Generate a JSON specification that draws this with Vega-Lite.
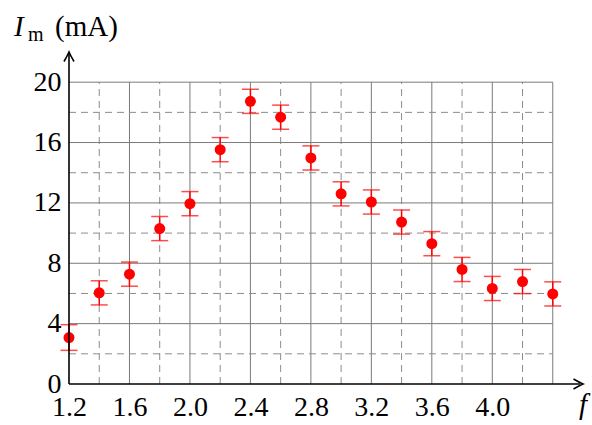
{
  "$schema": "https://vega.github.io/schema/vega-lite/v6.json",
  "width": 514,
  "height": 332,
  "autosize": {"type": "none"},
  "padding": {"left": 69, "top": 52, "right": 9, "bottom": 41},
  "background": "white",
  "config": {"view": {"stroke": null}},
  "datasets": {
    "pts": [
      {"f": 1.2, "I": 3.08, "lo": 2.23, "hi": 3.93},
      {"f": 1.4, "I": 6.04, "lo": 5.24, "hi": 6.84},
      {"f": 1.6, "I": 7.28, "lo": 6.48, "hi": 8.08},
      {"f": 1.8, "I": 10.3, "lo": 9.5, "hi": 11.1},
      {"f": 2.0, "I": 11.95, "lo": 11.15, "hi": 12.75},
      {"f": 2.2, "I": 15.53, "lo": 14.73, "hi": 16.33},
      {"f": 2.4, "I": 18.73, "lo": 17.93, "hi": 19.53},
      {"f": 2.6, "I": 17.68, "lo": 16.88, "hi": 18.48},
      {"f": 2.8, "I": 14.98, "lo": 14.18, "hi": 15.78},
      {"f": 3.0, "I": 12.6, "lo": 11.8, "hi": 13.4},
      {"f": 3.2, "I": 12.06, "lo": 11.26, "hi": 12.86},
      {"f": 3.4, "I": 10.73, "lo": 9.93, "hi": 11.53},
      {"f": 3.6, "I": 9.3, "lo": 8.5, "hi": 10.1},
      {"f": 3.8, "I": 7.59, "lo": 6.79, "hi": 8.39},
      {"f": 4.0, "I": 6.33, "lo": 5.53, "hi": 7.13},
      {"f": 4.2, "I": 6.79, "lo": 5.99, "hi": 7.59},
      {"f": 4.4, "I": 5.97, "lo": 5.17, "hi": 6.77}
    ],
    "vminor": [{"g": 1.4}, {"g": 1.8}, {"g": 2.2}, {"g": 2.6}, {"g": 3.0}, {"g": 3.4}, {"g": 3.8}, {"g": 4.2}],
    "vmajor": [{"g": 1.6}, {"g": 2.0}, {"g": 2.4}, {"g": 2.8}, {"g": 3.2}, {"g": 3.6}, {"g": 4.0}, {"g": 4.4}],
    "hminor": [{"g": 2}, {"g": 6}, {"g": 10}, {"g": 14}, {"g": 18}],
    "hmajor": [{"g": 4}, {"g": 8}, {"g": 12}, {"g": 16}, {"g": 20}]
  },
  "layer": [
    {
      "data": {"name": "vminor"},
      "mark": {"type": "rule", "color": "#8c8c8c", "strokeWidth": 1, "strokeDash": [7, 5]},
      "encoding": {
        "x": {"field": "g", "type": "quantitative", "scale": {"domain": [1.2, 4.6], "nice": false, "zero": false},
          "axis": {"values": [1.2, 1.6, 2.0, 2.4, 2.8, 3.2, 3.6, 4.0], "format": ".1f", "domain": false, "ticks": false, "grid": false, "title": null, "labelFont": "Liberation Serif, DejaVu Serif, serif", "labelFontSize": 28, "labelColor": "black", "labelPadding": 9, "labelFlush": false, "labelOverlap": false}},
        "y": {"datum": 0, "type": "quantitative", "scale": {"domain": [0, 22], "nice": false},
          "axis": {"values": [0, 4, 8, 12, 16, 20], "domain": false, "ticks": false, "grid": false, "title": null, "labelFont": "Liberation Serif, DejaVu Serif, serif", "labelFontSize": 28, "labelColor": "black", "labelPadding": 8, "labelFlush": false, "labelOverlap": false}},
        "y2": {"datum": 20}
      }
    },
    {
      "data": {"name": "vmajor"},
      "mark": {"type": "rule", "color": "#7a7a7a", "strokeWidth": 1},
      "encoding": {
        "x": {"field": "g", "type": "quantitative"},
        "y": {"datum": 0, "type": "quantitative"},
        "y2": {"datum": 20}
      }
    },
    {
      "data": {"name": "hminor"},
      "mark": {"type": "rule", "color": "#8c8c8c", "strokeWidth": 1, "strokeDash": [7, 5]},
      "encoding": {
        "y": {"field": "g", "type": "quantitative"},
        "x": {"datum": 1.2, "type": "quantitative"},
        "x2": {"datum": 4.4}
      }
    },
    {
      "data": {"name": "hmajor"},
      "mark": {"type": "rule", "color": "#7a7a7a", "strokeWidth": 1},
      "encoding": {
        "y": {"field": "g", "type": "quantitative"},
        "x": {"datum": 1.2, "type": "quantitative"},
        "x2": {"datum": 4.4}
      }
    },
    {
      "data": {"name": "pts"},
      "mark": {"type": "rule", "color": "#ff0000", "strokeWidth": 1.5},
      "encoding": {
        "x": {"field": "f", "type": "quantitative"},
        "y": {"field": "lo", "type": "quantitative"},
        "y2": {"field": "hi"}
      }
    },
    {
      "data": {"name": "pts"},
      "mark": {"type": "tick", "color": "#ff0000", "orient": "horizontal", "size": 17, "thickness": 1.5},
      "encoding": {
        "x": {"field": "f", "type": "quantitative"},
        "y": {"field": "lo", "type": "quantitative"}
      }
    },
    {
      "data": {"name": "pts"},
      "mark": {"type": "tick", "color": "#ff0000", "orient": "horizontal", "size": 17, "thickness": 1.5},
      "encoding": {
        "x": {"field": "f", "type": "quantitative"},
        "y": {"field": "hi", "type": "quantitative"}
      }
    },
    {
      "data": {"name": "pts"},
      "mark": {"type": "point", "shape": "circle", "filled": true, "color": "#ff0000", "opacity": 1, "size": 121},
      "encoding": {
        "x": {"field": "f", "type": "quantitative"},
        "y": {"field": "I", "type": "quantitative"}
      }
    },
    {
      "data": {"values": [{}]},
      "mark": {"type": "rule", "color": "black", "strokeWidth": 1.6},
      "encoding": {
        "x": {"datum": 1.2, "type": "quantitative"},
        "x2": {"datum": 4.58},
        "y": {"datum": 0, "type": "quantitative"}
      }
    },
    {
      "data": {"values": [{}]},
      "mark": {"type": "rule", "color": "black", "strokeWidth": 1.6},
      "encoding": {
        "x": {"datum": 1.2, "type": "quantitative"},
        "y": {"datum": 0, "type": "quantitative"},
        "y2": {"datum": 21.95}
      }
    },
    {
      "data": {"values": [{}]},
      "mark": {"type": "point", "shape": "M -1.9 -1 Q -0.7 -0.3 0 0 Q -0.7 0.3 -1.9 1", "filled": false, "stroke": "black", "strokeWidth": 1.6, "opacity": 1, "size": 100},
      "encoding": {
        "x": {"datum": 4.6, "type": "quantitative"},
        "y": {"datum": 0, "type": "quantitative"}
      }
    },
    {
      "data": {"values": [{}]},
      "mark": {"type": "point", "shape": "M -1 1.9 Q -0.3 0.7 0 0 Q 0.3 0.7 1 1.9", "filled": false, "stroke": "black", "strokeWidth": 1.6, "opacity": 1, "size": 100},
      "encoding": {
        "x": {"datum": 1.2, "type": "quantitative"},
        "y": {"datum": 22, "type": "quantitative"}
      }
    },
    {
      "data": {"values": [{}]},
      "mark": {"type": "text", "text": "I", "font": "Liberation Serif, DejaVu Serif, serif", "fontStyle": "italic", "fontSize": 29, "align": "left", "baseline": "alphabetic", "dx": -55, "dy": -16, "color": "black"},
      "encoding": {
        "x": {"datum": 1.2, "type": "quantitative"},
        "y": {"datum": 22, "type": "quantitative"}
      }
    },
    {
      "data": {"values": [{}]},
      "mark": {"type": "text", "text": "m", "font": "Liberation Serif, DejaVu Serif, serif", "fontSize": 20, "align": "left", "baseline": "alphabetic", "dx": -41, "dy": -11, "color": "black"},
      "encoding": {
        "x": {"datum": 1.2, "type": "quantitative"},
        "y": {"datum": 22, "type": "quantitative"}
      }
    },
    {
      "data": {"values": [{}]},
      "mark": {"type": "text", "text": "(mA)", "font": "Liberation Serif, DejaVu Serif, serif", "fontSize": 29, "align": "left", "baseline": "alphabetic", "dx": -14, "dy": -16, "color": "black"},
      "encoding": {
        "x": {"datum": 1.2, "type": "quantitative"},
        "y": {"datum": 22, "type": "quantitative"}
      }
    },
    {
      "data": {"values": [{}]},
      "mark": {"type": "text", "text": "f", "font": "Liberation Serif, DejaVu Serif, serif", "fontStyle": "italic", "fontSize": 29, "align": "center", "baseline": "alphabetic", "dx": 0, "dy": 30, "color": "black"},
      "encoding": {
        "x": {"datum": 4.6, "type": "quantitative"},
        "y": {"datum": 0, "type": "quantitative"}
      }
    }
  ]
}
